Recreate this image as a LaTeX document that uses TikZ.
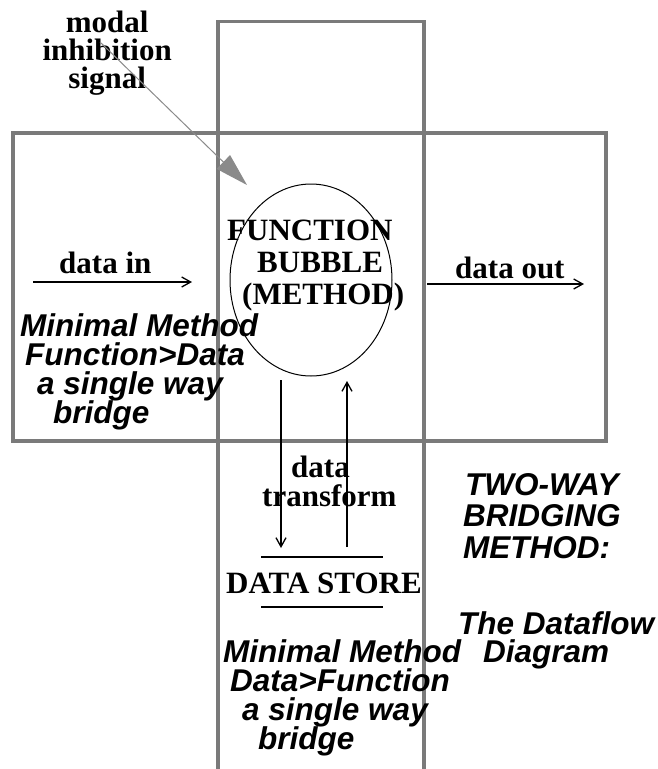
\documentclass[tikz,border=0pt]{standalone}
\usepackage{fontspec}
\setmainfont{Liberation Serif}
\setsansfont{Liberation Sans}
\usetikzlibrary{arrows.meta,shapes.geometric}

\definecolor{framegray}{HTML}{7A7A7A}
\definecolor{signalgray}{HTML}{8A8A8A}

% a block of lines whose baseline is the first line's baseline
\newcommand{\linestack}[2]{\vtop{\baselineskip=#1\lineskiplimit=-100pt\lineskip=0pt\relax #2}}

\tikzset{
  frame/.style={draw=framegray, line width=3.2pt},
  flow/.style={draw=black, line width=1.3pt,
    -{Straight Barb[length=9pt,width=10pt,line width=1.3pt]}},
  storeline/.style={draw=black, line width=1.5pt},
  signal/.style={draw=signalgray, line width=1pt,
    -{Triangle[length=33pt,width=19pt,fill=signalgray]}},
  bubblestyle/.style={draw=black, line width=1pt, ellipse,
    minimum width=162pt, minimum height=192pt, inner sep=0pt},
  serifbold/.style={font=\fontsize{31}{32}\selectfont\bfseries,
    inner sep=0pt, anchor=base west},
  sansit/.style={font=\fontsize{31.5}{29}\selectfont\sffamily\bfseries\itshape,
    inner sep=0pt, anchor=base west},
}

\begin{document}
\begin{tikzpicture}[x=1pt,y=-1pt]
\useasboundingbox (0,0) rectangle (657,769);
\fill[white] (0,0) rectangle (657,769);

% the two crossing frames
\draw[frame] (218,769) -- (218,21.7) -- (424,21.7) -- (424,769);
\draw[frame] (13,133) rectangle (606,441);

% process bubble
\node[bubblestyle] (bubble) at (311,280) {};
\node[serifbold] (bubbletext) at (227,240)
  {\linestack{32pt}{\hbox{FUNCTION}\hbox{\hspace*{30pt}BUBBLE}\hbox{\hspace*{15pt}(METHOD)}}};

% inhibition signal
\node[serifbold] (modal) at (42,32)
  {\linestack{28pt}{\hbox to 130pt{\hfil modal\hfil}\hbox to 130pt{\hfil inhibition\hfil}\hbox to 130pt{\hfil signal\hfil}}};
\coordinate (sigS) at (100,42);
\coordinate (sigE) at (247,185);
\draw[signal] (sigS) -- (sigE);

% data in / data out
\node[serifbold] (datain) at (59,273) {data in};
\coordinate (inS) at (33,282);
\coordinate (inE) at (192,282);
\draw[flow] (inS) -- (inE);

\node[serifbold] (dataout) at (455,278) {data out};
\coordinate (outS) at (427,284);
\coordinate (outE) at (584,284);
\draw[flow] (outS) -- (outE);

% exchange with the data store
\coordinate (downS) at (281,380);
\coordinate (downE) at (281,548);
\coordinate (upS) at (347,547);
\coordinate (upE) at (347,381);
\draw[flow] (downS) -- (downE);
\draw[flow] (upS) -- (upE);
\node[serifbold] (transform) at (262,477)
  {\linestack{29pt}{\hbox{\hspace*{29pt}data}\hbox{transform}}};

% data store
\coordinate (stA) at (261,557);
\coordinate (stB) at (383,557);
\coordinate (stC) at (261,607);
\coordinate (stD) at (383,607);
\draw[storeline] (stA) -- (stB);
\draw[storeline] (stC) -- (stD);
\node[serifbold] (store) at (226,593) {DATA STORE};

% captions
\node[sansit] (capleft) at (20,336)
  {\linestack{29pt}{\hbox{Minimal Method}\hbox{\hspace*{5pt}Function>Data}\hbox{\hspace*{17pt}a single way}\hbox{\hspace*{33pt}bridge}}};
\node[sansit] (capbottom) at (223,662)
  {\linestack{29pt}{\hbox{Minimal Method}\hbox{\hspace*{7pt}Data>Function}\hbox{\hspace*{19pt}a single way}\hbox{\hspace*{35pt}bridge}}};
\node[sansit] (title) at (463,495)
  {\linestack{31.5pt}{\hbox{\hspace*{2pt}TWO-WAY}\hbox{BRIDGING}\hbox{METHOD:}}};
\node[sansit] (subtitle) at (458,634)
  {\linestack{28pt}{\hbox{The Dataflow}\hbox{\hspace*{25pt}Diagram}}};
\end{tikzpicture}
\end{document}
